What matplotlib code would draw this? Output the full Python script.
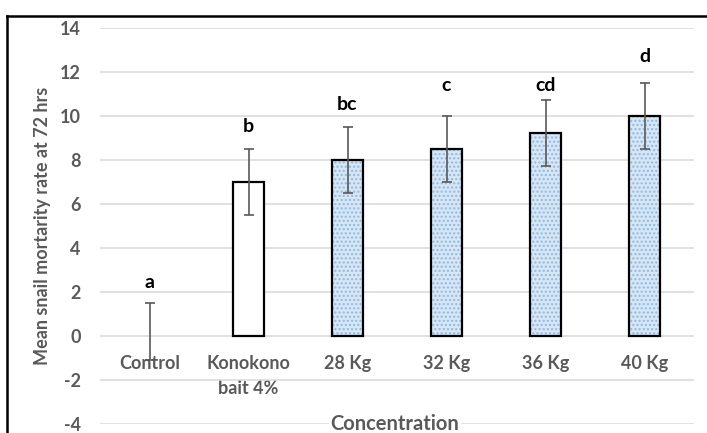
import matplotlib
matplotlib.use('Agg')
import matplotlib.pyplot as plt
from matplotlib.lines import Line2D

categories = ['Control', 'Konokono\nbait 4%', '28 Kg', '32 Kg', '36 Kg', '40 Kg']
means = [0, 7, 8, 8.5, 9.25, 10]
err_low = [1.1, 1.5, 1.5, 1.5, 1.5, 1.5]
err_high = [1.5, 1.5, 1.5, 1.5, 1.5, 1.5]
letters = ['a', 'b', 'bc', 'c', 'cd', 'd']
letter_y = [2.45, 9.5, 10.5, 11.4, 11.4, 12.7]
yticks = [-4, -2, 0, 2, 4, 6, 8, 10, 12, 14]

plt.rcParams['font.family'] = ['Lato', 'DejaVu Sans']
plt.rcParams['axes.unicode_minus'] = False
grey = '#595959'

fig = plt.figure(figsize=(7.07, 4.33), dpi=100)
ax = fig.add_axes([100/707, 9/433, 594/707, 396/433])

x = list(range(len(categories)))
w = 0.32
fills = ['white', 'white', '#d6e6f5', '#d6e6f5', '#d6e6f5', '#d6e6f5']
hatches = ['', '', '....', '....', '....', '....']

# patterned fill first, then outline on top
for i in x:
    if means[i] == 0:
        continue
    ax.bar(i, means[i], w, color=fills[i], hatch=hatches[i], edgecolor='#8fb8e0',
           linewidth=0, zorder=2)
    ax.bar(i, means[i], w, color='none', edgecolor='black', linewidth=1.6, zorder=3)

ax.errorbar(x, means, yerr=[err_low, err_high], fmt='none', ecolor=grey,
            elinewidth=1.2, capsize=3.5, capthick=1.2, zorder=4)

for i in x:
    ax.text(i, letter_y[i], letters[i], ha='center', va='center', fontsize=14,
            fontweight='bold', color='black')

ax.set_xlim(-0.5, len(categories) - 0.5)
ax.set_ylim(-4, 14)
ax.set_yticks(yticks)
ax.yaxis.grid(True, color='#d9d9d9', linewidth=1.1)
ax.set_axisbelow(True)
for s in ['top', 'right', 'left']:
    ax.spines[s].set_visible(False)
ax.spines['bottom'].set_position(('data', 0))
ax.spines['bottom'].set_visible(False)

ax.set_xticks(x)
ax.set_xticklabels(categories, fontsize=13, fontweight='bold', color=grey, linespacing=1.55)
ax.tick_params(axis='x', length=0, pad=14)
ax.tick_params(axis='y', length=0, pad=14, labelsize=13, labelcolor=grey)
for t in ax.get_yticklabels():
    t.set_fontweight('bold')
ax.set_zorder(1)

ax.set_ylabel('Mean snail mortarity rate at 72 hrs', fontsize=13, fontweight='bold',
              color=grey, labelpad=6)
fig.text(395/707, 1 - 424/433, 'Concentration', ha='center', va='center', fontsize=14.5,
         fontweight='bold', color=grey, zorder=5,
         bbox=dict(facecolor='white', edgecolor='none', pad=1))

# black frame around the picture
fig.add_artist(Line2D([7/707, 1], [1 - 16/433, 1 - 16/433], color='black', lw=1.8,
                      transform=fig.transFigure))
fig.add_artist(Line2D([7/707, 7/707], [0, 1 - 16/433], color='black', lw=1.8,
                      transform=fig.transFigure))

fig.savefig('out.png', dpi=100)
